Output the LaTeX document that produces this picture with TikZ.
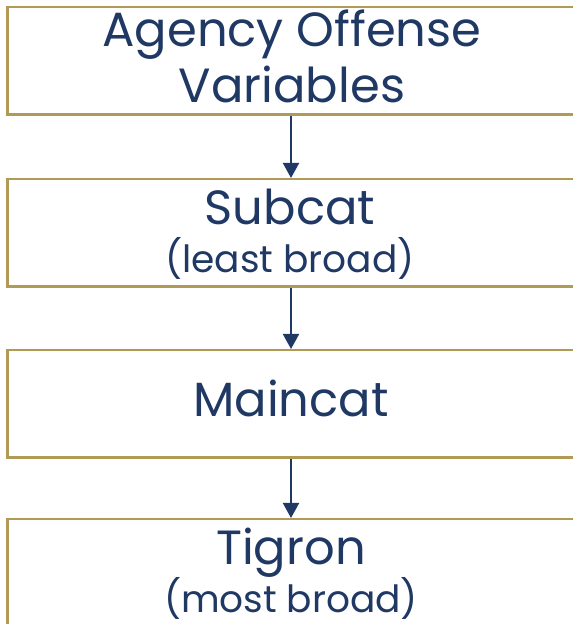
\documentclass[tikz,border=0pt]{standalone}
\usepackage{fontspec}
\setmainfont{Poppins}
\usetikzlibrary{arrows.meta}
\definecolor{navy}{HTML}{1F3864}
\definecolor{gold}{HTML}{B09A56}
\begin{document}
\begin{tikzpicture}[x=1pt,y=1pt,
  box/.style={draw=gold,line width=2.3pt,rectangle,minimum width=567pt,minimum height=107.5pt,inner sep=0pt,anchor=north},
  big/.style={text=navy,font=\fontsize{48}{56}\selectfont,anchor=base,inner sep=0pt},
  small/.style={text=navy,font=\fontsize{37.5}{44}\selectfont,anchor=base,inner sep=0pt},
  link/.style={draw=navy,line width=2pt,-{Triangle[width=16pt,length=15pt]}}]
\useasboundingbox (0,0) rectangle (573,624);
\clip (0,0) rectangle (573,624);
\node[box] (b1) at (291,618) {};
\node[box] (b2) at (291,446) {};
\node[box] (b3) at (291,275) {};
\node[box] (b4) at (291,106) {};
\node[big] (t1a) at (292,577) {Agency Offense};
\node[big] (t1b) at (292,521) {Variables};
\node[big] (t2a) at (290,399) {Subcat};
\node[small] (t2b) at (290,351) {(least broad)};
\node[big] (t3) at (291,207) {Maincat};
\node[big] (t4a) at (291,59) {Tigron};
\node[small] (t4b) at (291,12) {(most broad)};
\draw[link] (b1.south) -- (b2.north);
\draw[link] (b2.south) -- (b3.north);
\draw[link] (b3.south) -- (b4.north);
\end{tikzpicture}
\end{document}
